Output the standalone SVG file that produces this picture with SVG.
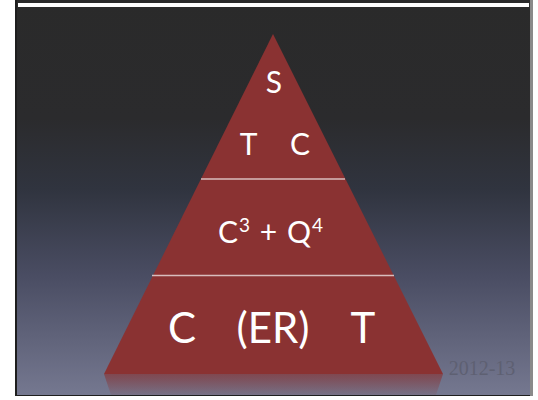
<svg xmlns="http://www.w3.org/2000/svg" width="538" height="400" viewBox="0 0 538 400">
  <defs>
    <linearGradient id="bg" x1="0" y1="0" x2="0" y2="1">
      <stop offset="0" stop-color="#2a2a2a"/>
      <stop offset="0.3" stop-color="#2b2b2d"/>
      <stop offset="0.48" stop-color="#30343f"/>
      <stop offset="0.7" stop-color="#4a4d63"/>
      <stop offset="1" stop-color="#757890"/>
    </linearGradient>
    <linearGradient id="refl" x1="0" y1="0" x2="0" y2="1">
      <stop offset="0" stop-color="#8a3232" stop-opacity="0.65"/>
      <stop offset="1" stop-color="#8a3232" stop-opacity="0.1"/>
    </linearGradient>
    <style>
      .lbl { font-family: Lato, "Open Sans", "DejaVu Sans", sans-serif; fill: #ffffff; text-anchor: middle; }
      .div { stroke: #e6d6d6; stroke-width: 1.6; stroke-opacity: 0.85; }
    </style>
  </defs>
  <rect x="0" y="0" width="538" height="400" fill="#ffffff"/>
  <rect x="15" y="0" width="518" height="396" fill="#1e1e1e"/>
  <rect x="17" y="0" width="513" height="395" fill="url(#bg)"/>
  <rect x="18" y="3" width="511" height="4" fill="#ffffff"/>
  <rect x="530" y="0" width="3" height="396" fill="#8a8a8a"/>

  <g id="pyramid">
    <polygon points="273,34 443,374 104,374" fill="#8a3232"/>
    <polygon points="104,374 443,374 436,395 111,395" fill="url(#refl)"/>
  </g>

  <g id="connectors">
    <line class="div" x1="201" y1="179" x2="345" y2="179"/>
    <line class="div" x1="152" y1="275.5" x2="394" y2="275.5"/>
  </g>

  <g id="top">
    <text class="lbl" x="274" y="93" font-size="30">S</text>
    <text class="lbl" x="248.5" y="155" font-size="30">T</text>
    <text class="lbl" x="300" y="155" font-size="30">C</text>
  </g>

  <g id="middle">
    <text class="lbl" x="271" y="243" font-size="30" letter-spacing="1">C<tspan font-size="19" dy="-11">3</tspan><tspan dy="11"> + Q</tspan><tspan font-size="19" dy="-11">4</tspan></text>
  </g>

  <g id="bottom">
    <text class="lbl" x="182" y="343" font-size="42">C</text>
    <text class="lbl" x="273" y="343" font-size="42">(ER)</text>
    <text class="lbl" x="363" y="343" font-size="42">T</text>
  </g>

  <text x="482" y="375" font-family="Liberation Serif, serif" font-size="20" fill="#5e6072" text-anchor="middle">2012-13</text>
</svg>
